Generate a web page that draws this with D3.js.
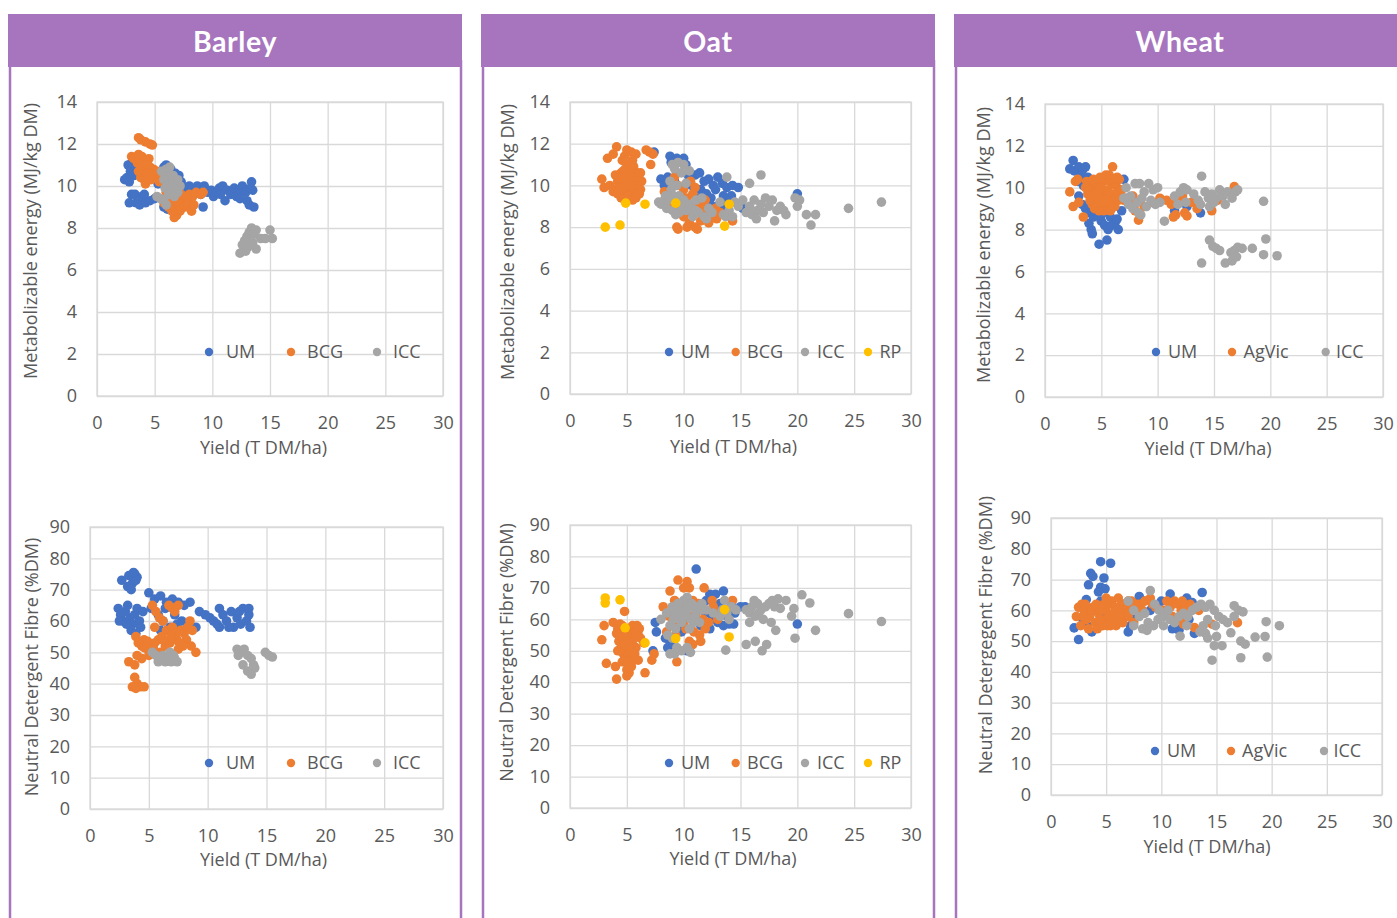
<!DOCTYPE html>
<html>
<head>
<meta charset="utf-8">
<script src="https://cdn.jsdelivr.net/npm/d3@7/dist/d3.min.js"></script>
<style>
  html, body { margin: 0; padding: 0; background: #ffffff; }
  svg { display: block; }
</style>
</head>
<body>
<svg id="fig" width="1397" height="918"></svg>
<script>
// ---------- labels and ticks ----------
const crops = ["Barley", "Oat", "Wheat"];
const yieldTicks = [0, 5, 10, 15, 20, 25, 30];
const meTicks = [0, 2, 4, 6, 8, 10, 12, 14];
const ndfTicks = [0, 10, 20, 30, 40, 50, 60, 70, 80, 90];
const yieldTitle = "Yield (T DM/ha)";
const meTitle = "Metabolizable energy (MJ/kg DM)";
const ndfTitle = "Neutral Detergent Fibre (%DM)";
const ndfTitleWheat = "Neutral Detergegent Fibre (%DM)";

// ---------- Barley: metabolisable energy vs yield ----------
const barleyME_UM = [[2.4,10.3],[2.6,10.4],[2.7,11.0],[2.9,10.7],[3.0,11.1],[3.2,10.5],[3.4,10.9],[2.8,10.2],[3.6,10.6],[4.0,11.0],[4.4,10.3],
  [2.8,9.2],[3.0,9.6],[3.3,9.6],[3.4,9.2],[3.7,9.1],[3.9,9.5],[4.1,9.6],[4.2,9.2],[4.6,9.3],[5.0,9.4],
  [5.3,10.1],[5.6,10.4],[5.8,10.9],[6.0,11.0],[6.4,10.8],[6.8,10.6],[7.1,10.5],[7.3,10.2],[5.8,9.0],[6.1,8.9],[7.0,9.4],
  [7.6,9.9],[8.0,10.0],[8.4,9.7],[8.7,10.0],[9.0,9.6],[9.2,9.0],[9.3,10.0],[9.6,9.7],[9.9,9.8],[10.1,9.5],[10.3,9.7],[10.6,9.9],
  [10.9,10.0],[11.1,9.3],[11.3,9.8],[11.6,9.6],[11.9,9.9],[12.1,9.5],[12.3,9.8],[12.6,10.0],[12.9,9.7],[13.0,9.3],[13.2,9.1],
  [13.4,10.2],[13.5,9.8],[13.6,9.0],[13.3,9.9],[8.2,9.1],[10.7,9.6],[12.4,9.4]];
const barleyME_BCG = [[3.6,12.3],[3.8,12.2],[4.2,12.1],[4.6,12.0],[4.8,11.95],[3.0,11.4],[3.2,11.3],[3.6,11.5],[3.9,11.4],[4.2,11.2],
  [4.5,11.3],[3.5,11.1],[3.8,10.9],[4.0,10.7],[4.3,10.8],[4.6,10.9],[4.9,10.8],[5.2,10.7],[3.8,10.4],[4.1,10.3],[4.4,10.5],
  [4.7,10.3],[5.0,10.5],[5.5,10.6],[4.2,10.1],[5.4,10.2],[6.0,9.7],[6.3,9.5],[6.6,9.2],[6.8,9.0],[7.0,9.3],[7.3,9.6],[7.5,9.2],
  [7.8,9.4],[8.0,9.6],[8.3,9.5],[8.6,9.7],[9.0,9.6],[9.2,9.7],[7.2,8.8],[6.9,8.6],[6.7,8.5],[7.6,9.0],[8.2,8.8],[6.2,9.0],
  [7.0,8.9],[7.8,9.2],[5.8,9.2],[6.5,8.8],[8.4,9.1],[4.0,11.0],[4.4,11.0],[3.6,10.7],[4.5,10.6],[6.4,9.3],[7.1,9.1],[7.6,9.5]];
const barleyME_ICC = [[5.6,10.7],[6.0,10.8],[6.3,10.5],[5.8,10.3],[6.5,10.2],[6.1,10.0],[6.8,10.0],[5.9,9.9],[6.4,9.8],[7.0,9.7],
  [6.6,10.5],[7.2,10.0],[5.5,9.4],[5.8,9.3],[6.0,9.1],[6.2,9.6],[6.7,9.5],[7.0,10.3],[5.2,9.5],[6.3,10.9],
  [12.4,6.8],[12.6,7.2],[12.8,7.4],[13.0,7.6],[13.2,7.8],[13.4,8.0],[13.6,7.7],[13.8,7.9],[13.5,7.3],[13.8,7.0],[14.2,7.5],
  [14.6,7.5],[15.0,7.9],[15.2,7.5],[13.1,7.1],[12.9,6.9]];

// ---------- Barley: neutral detergent fibre vs yield ----------
const barleyNDF_UM = [[2.7,73],[3.2,71],[3.6,72],[3.8,75],[4.0,74],[3.5,70],[3.9,73],[3.3,74.5],[3.7,75.5],
  [2.4,64],[2.6,62],[2.8,60],[3.0,63],[3.2,65],[3.4,61],[3.6,59],[3.8,62],[4.0,64],[4.2,60],[4.5,63],[3.5,57],[3.9,56],[2.5,60],[4.3,58],[3.1,59],
  [5.0,69],[5.5,67],[6.0,68],[6.5,66],[7.0,67],[7.5,66],[8.0,65],[8.5,66],[5.2,64],[5.8,62],[6.2,60],[6.8,58],[7.2,62],[7.8,60],
  [6.0,57],[8.3,58],[9.0,58],[6.4,64],[7.4,59],
  [9.3,63],[9.8,62],[10.2,61],[10.5,60],[11.0,64],[11.3,62],[11.6,60],[12.0,63],[12.2,58],[12.5,61],[12.8,59],[13.0,64],
  [13.3,60],[13.5,62],[13.6,58],[11.8,58],[10.8,59],[12.7,63],[13.5,64],[11.0,58]];
const barleyNDF_BCG = [[5.3,65],[5.6,63],[5.9,61],[6.2,60],[6.7,65],[7.0,64],[7.2,63],[7.5,65],[5.5,58],[6.5,57],[3.9,55],[4.1,53],
  [4.4,52],[4.6,54],[4.9,51],[5.2,52],[5.5,53],[5.8,54],[6.1,55],[6.4,52],[6.8,53],[7.1,55],[7.4,54],[7.7,57],[8.0,56],[8.3,58],
  [8.5,60],[8.2,54],[7.9,52],[7.5,51],[6.0,50],[5.0,49],[4.4,48],[3.3,47],[3.8,46],[4.0,49],[8.6,52],[9.0,50],[3.8,42],[4.0,40],
  [3.6,39],[4.3,39],[4.6,39],[3.9,38.5],[7.0,58],[7.3,56],[8.7,57],[4.6,51.5],[5.4,51],[6.3,54],[6.9,55],[7.6,53],[4.9,53.5]];
const barleyNDF_ICC = [[5.3,50],[5.6,49],[5.9,48],[6.2,49],[6.5,48],[6.8,50],[7.1,49],[7.4,47],[5.8,47],[6.4,47],[6.9,47],[7.2,48],
  [12.5,51],[12.8,50],[13.1,51],[13.4,49],[13.7,48],[13.9,46],[13.0,46],[13.4,44],[13.7,43],[14.0,45],[14.9,50],[15.2,49],
  [15.5,48.5],[12.6,49]];

// ---------- Oat: metabolisable energy vs yield ----------
const oatME_UM = [[7.4,11.6],[8.8,11.4],[9.4,11.3],[10.0,11.3],[8.9,11.1],[10.2,11.0],[8.0,10.3],[8.6,10.4],[9.2,10.2],[10.4,10.5],
  [11.0,10.5],[11.4,10.6],[11.8,10.2],[12.2,10.3],[12.6,10.0],[13.0,10.4],[13.4,10.1],[13.8,9.9],[14.3,10.0],[14.8,9.9],
  [11.5,9.8],[12.0,9.6],[12.4,9.4],[12.8,9.8],[13.5,9.5],[13.9,9.2],[14.2,9.5],[12.9,9.0],[13.6,8.9],[15.2,8.9],[12.3,9.1],
  [20.0,9.6],[8.3,10.0],[10.7,10.0],[11.2,9.4]];
const oatME_BCG = [[4.1,11.85],[3.8,11.5],[3.3,11.3],[5.0,11.7],[5.4,11.6],[5.8,11.5],[4.6,11.2],[5.2,11.0],[5.6,10.9],[4.5,10.6],
  [4.8,10.5],[5.1,10.3],[5.4,10.4],[5.7,10.1],[4.2,10.2],[4.0,9.8],[4.4,9.9],[4.7,10.0],[5.0,9.8],[5.3,9.6],[5.6,9.7],[6.0,9.9],
  [6.3,10.2],[2.8,10.3],[3.0,9.9],[3.5,10.0],[4.9,9.4],[5.5,9.3],[6.2,9.8],[4.3,10.5],[4.9,10.8],[5.2,10.6],[5.9,10.6],[6.0,10.3],
  [4.6,9.6],[7.0,11.6],[7.3,11.5],[6.7,11.7],[7.1,11.0],[3.8,9.7],[5.5,11.2],
  [4.4,10.3],[4.7,10.7],[5.0,10.1],[5.3,10.9],[5.6,10.4],[5.9,10.0],[4.2,9.6],[4.5,9.4],[5.1,9.5],[5.8,9.4],[6.1,9.6],
  [4.8,11.4],[5.5,10.0],[4.0,10.5],[6.2,10.6],[4.6,10.4],
  [9.2,10.4],[9.5,10.0],[10.0,9.8],[10.6,10.2],[11.0,9.9],[9.8,9.5],[10.3,9.4],[10.8,9.6],[11.3,9.2],[11.7,9.0],[9.0,9.3],
  [8.6,9.6],[8.3,9.7],[9.3,8.9],[10.0,8.5],[10.5,8.2],[11.0,8.0],[11.5,8.3],[12.0,8.6],[12.5,8.5],[12.8,8.9],[13.2,8.7],
  [9.4,8.0],[9.5,7.9],[10.3,8.0],[11.2,7.9],[12.2,8.2],[12.9,8.4],[14.3,8.3],[12.6,8.8],[11.9,9.3],[10.7,8.7],[8.8,9.0]];
const oatME_ICC = [[9.0,11.0],[9.5,11.1],[10.0,11.0],[9.2,10.8],[9.8,10.6],[10.5,10.7],[8.8,10.2],[9.4,10.0],[10.2,10.1],[8.4,9.5],
  [8.9,9.8],[9.6,9.5],[10.0,9.3],[10.6,9.1],[11.1,9.3],[8.0,9.1],[8.5,8.9],[9.0,8.8],[9.6,8.7],[10.2,8.8],[10.8,8.5],[11.3,8.7],
  [11.8,8.5],[9.3,8.6],[8.3,9.3],[12.0,8.4],[12.5,8.7],[13.2,9.2],[13.8,10.4],[13.5,8.6],[14.0,8.8],[14.5,9.2],[14.8,9.0],
  [15.2,9.3],[13.7,8.5],[7.8,9.2],[11.6,9.4],[15.8,10.1],[16.8,10.5],[15.8,9.0],[16.2,9.3],[16.5,8.8],[16.8,9.1],[17.2,9.4],
  [17.5,9.0],[17.8,9.3],[18.2,8.8],[18.5,9.0],[16.0,8.6],[16.4,8.4],[17.0,8.7],[18.0,8.3],[18.8,8.8],[19.0,8.6],[19.8,9.4],
  [20.0,9.0],[20.2,9.3],[20.8,8.6],[21.2,8.1],[21.6,8.6],[24.5,8.9],[27.4,9.2],[15.5,8.7],[14.3,8.5],
  [9.9,9.0],[10.5,8.9],[11.0,8.8],[9.1,9.5],[8.7,9.3],[12.2,8.9]];
const oatME_RP = [[3.1,8.0],[4.4,8.1],[4.9,9.15],[6.6,9.1],[9.3,9.15],[14.0,9.1],[13.6,8.05]];

// ---------- Oat: neutral detergent fibre vs yield ----------
const oatNDF_UM = [[11.1,76],[12.3,68],[12.8,68],[13.5,69],[12.0,66],[12.7,64],[13.2,65],[13.8,63],[14.2,64.5],[15.0,64],[15.4,64],
  [14.5,62],[13.0,59],[13.5,58],[14.0,58.5],[14.4,58.5],[12.3,57],[11.5,58],[7.5,59],[7.6,56],[8.4,54],[8.8,53],[8.6,51],
  [9.1,52],[7.3,50],[10.3,50],[9.8,56],[10.0,57.5],[20.0,58.5],[12.5,61],[11.9,62],[13.8,61]];
const oatNDF_BCG = [[2.8,53.5],[3.0,58],[3.2,46],[4.1,41],[4.0,45],[5.0,42],[5.2,43],[4.8,62.5],[3.8,59],[4.2,57],[4.5,56],[4.8,55],
  [5.1,57],[5.4,56],[5.7,57],[6.0,55],[6.2,54],[4.3,53],[4.6,52],[4.9,51],[5.2,53],[5.5,52],[5.8,51],[4.4,50],[4.7,49],[5.0,48],
  [5.3,48],[5.6,47],[4.6,46.5],[5.0,44],[5.4,45],[6.0,47],[6.6,43],[7.2,47],[7.4,49],[6.5,52.5],[4.1,55.5],[5.2,50],[5.9,58],
  [4.4,58.5],[5.6,54],
  [4.3,55],[4.6,58],[4.9,53],[5.2,55],[5.5,58],[5.8,56],[6.1,57],[4.5,51],[4.8,47],[5.1,46],[5.4,50],[5.7,49],[4.2,50],[5.0,54.5],[5.3,51.5],
  [8.8,69],[9.5,72.5],[10.3,72],[10.0,70],[10.5,70],[11.8,70],[9.2,66],[9.8,65],[10.8,66],[11.3,65],[12.5,66],[8.2,64],[8.7,61],
  [9.4,60],[10.0,59],[10.6,61],[11.1,62],[11.7,60],[12.2,59],[12.8,62],[8.5,56],[9.3,55],[10.2,57],[10.9,56],[11.4,55],[11.5,53],
  [10.5,53],[10.8,52],[9.4,46.5],[12.6,64],[14.3,66],[13.0,60],[11.9,57],[9.0,58]];
const oatNDF_ICC = [[8.0,60],[8.5,62],[9.0,64],[9.5,65],[10.0,66],[10.3,67],[10.7,65],[11.2,64],[11.6,65],[12.0,63],[9.2,62],[9.7,61],
  [10.2,62],[10.6,60],[11.0,61],[11.4,59],[8.8,58],[9.3,57],[9.8,59],[10.5,57],[8.6,55],[9.0,54],[9.4,51],[9.2,49],[9.8,50],
  [10.3,51],[10.6,49.5],[8.8,49],[11.6,63],[10.0,63],[12.6,62],[13.2,61],[13.8,62],[14.2,64],[13.6,66],[14.6,63],[14.0,60],[13.4,63],
  [15.5,63],[15.8,62],[16.0,64],[16.2,66],[16.5,65],[16.8,63],[17.2,64],[17.5,65],[17.8,66],[18.3,66.5],[18.0,64],[16.3,61],
  [15.8,59],[16.6,62],[17.0,60],[18.5,63.5],[19.0,66],[19.5,61],[20.4,67.8],[19.7,63.4],[21.1,65.2],[15.5,52],[16.3,53],[16.9,50],
  [17.3,52],[17.7,59],[18.1,56.5],[19.8,54],[21.6,56.5],[24.5,61.8],[27.4,59.3],[13.7,50.2],
  [9.6,63],[10.4,64],[11.0,63],[9.1,60],[10.0,61],[10.9,59]];
const oatNDF_RP = [[3.1,66.8],[3.1,65.2],[4.4,66.2],[4.85,57.3],[6.6,52.5],[9.3,53.9],[13.6,63.1],[14.0,54.4]];

// ---------- Wheat: metabolisable energy vs yield ----------
const wheatME_UM = [[2.5,11.3],[2.2,10.9],[2.6,10.8],[3.0,11.0],[3.4,10.9],[3.6,11.0],[3.2,10.6],[3.8,10.5],[2.9,10.3],[3.4,10.1],
  [3.9,9.9],[3.0,9.6],[3.3,9.2],[3.6,9.0],[4.0,8.8],[4.3,8.6],[3.9,8.3],[4.1,8.0],[4.2,7.8],[4.8,7.3],[5.5,7.5],[5.0,8.4],[5.3,8.2],
  [5.6,8.0],[5.9,8.2],[6.2,8.3],[6.5,8.0],[4.6,9.0],[5.0,8.7],[5.8,8.6],[6.4,8.5],[4.6,9.6],[7.0,10.4],[7.2,9.5],[6.8,8.9],
  [11.5,8.9],[13.8,8.8],[11.8,9.5],[12.6,9.1],[4.5,10.2]];
const wheatME_AgVic = [[2.2,9.8],[2.5,9.1],[2.7,10.3],[2.9,10.4],[3.0,9.3],[3.4,8.6],[3.7,10.3],[4.0,10.1],[4.3,9.9],[4.6,10.0],
  [4.9,10.2],[5.2,10.3],[5.5,10.4],[5.8,10.3],[6.1,10.2],[6.3,10.1],[3.8,9.7],[4.1,9.5],[4.4,9.7],[4.7,9.5],[5.0,9.6],[5.3,9.8],
  [5.6,9.7],[5.9,9.6],[6.2,9.7],[6.5,9.8],[4.2,9.2],[4.5,9.1],[4.8,9.3],[5.1,9.0],[5.4,9.2],[5.7,9.1],[6.0,9.3],[5.2,8.9],
  [6.0,11.0],[6.6,10.4],[4.9,10.5],[5.7,10.6],[3.6,10.0],[7.0,9.4],[7.5,9.2],[8.0,8.9],[8.3,8.45],[8.8,9.1],[9.5,9.3],[10.2,9.5],
  [10.8,9.4],[11.2,9.2],[11.6,8.7],[11.4,8.6],[12.0,9.4],[12.4,8.8],[12.6,8.65],[13.0,9.3],[13.5,9.0],[14.8,8.9],[15.3,9.4],
  [16.8,10.05],[12.2,9.6],[7.8,9.6],
  [4.0,9.4],[4.3,10.4],[4.6,9.8],[5.0,10.0],[5.3,9.4],[5.6,9.9],[5.9,9.0],[6.2,9.1],[6.5,9.4],[6.8,9.9],[5.4,10.6],[4.4,9.0],
  [6.4,10.5],[4.8,8.9],[5.8,8.9]];
const wheatME_ICC = [[7.2,10.0],[7.6,9.6],[8.0,10.2],[8.4,10.2],[8.8,9.8],[9.2,10.2],[9.6,9.9],[10.0,10.0],[7.4,9.2],[7.8,9.0],
  [8.2,9.3],[8.6,9.5],[9.0,9.1],[9.4,9.4],[9.8,9.2],[10.2,9.3],[8.5,8.7],[10.6,8.4],[7.0,9.5],[11.5,9.6],[12.0,9.8],[12.3,10.0],
  [12.6,9.9],[11.8,9.2],[12.5,9.3],[13.2,9.7],[13.6,9.4],[13.9,10.55],[14.2,9.8],[14.5,9.5],[14.8,9.7],[15.2,9.5],[15.5,9.9],
  [15.8,9.6],[16.2,9.8],[16.6,9.5],[16.9,9.8],[17.1,9.9],[13.8,9.2],[14.6,9.1],[15.0,9.3],[16.0,9.2],[19.4,9.35],[8.3,8.8],
  [14.6,7.5],[14.9,7.2],[15.2,7.1],[15.5,7.0],[13.9,6.4],[16.0,6.4],[16.5,6.9],[16.8,7.0],[17.1,7.15],[17.5,7.1],[18.4,7.1],
  [16.6,6.5],[19.4,6.8],[19.6,7.55],[20.6,6.75],[17.0,6.7]];

// ---------- Wheat: neutral detergent fibre vs yield ----------
const wheatNDF_UM = [[4.5,75.8],[5.4,75.3],[3.6,72],[3.8,71],[4.8,70.5],[4.5,67.5],[3.4,68.3],[4.9,67],[4.3,66],[3.2,63.5],[4.5,63],
  [2.1,54.3],[2.5,50.5],[2.9,57],[3.3,55],[3.7,53],[4.5,58],[7.0,53],[7.2,55],[7.5,57],[8.0,64.5],[8.4,63],[10.0,63],[10.8,65.3],
  [11.3,55],[11.6,53.5],[11.0,54],[12.3,64],[12.8,62.5],[13.0,52.5],[13.7,65.8],[12.5,57],[9.0,60],[3.9,60],[7.8,60],[6.5,62]];
const wheatNDF_AgVic = [[2.3,58],[2.5,61],[2.8,62],[3.0,60],[3.2,57],[2.7,55],[3.5,58],[3.8,61],[4.0,56],[4.3,59],[4.6,60],[4.9,57],
  [5.2,62],[5.5,63],[5.8,61],[6.1,64],[6.4,62],[6.7,60],[7.0,63],[5.0,60],[5.3,58],[5.6,57],[5.9,55],[6.2,57],[6.5,56],[6.8,58],
  [7.1,60],[7.4,61],[4.2,54],[4.7,55],[5.4,55],[3.4,54],[8.0,62],[8.5,63],[9.0,64],[9.5,61],[10.2,60],[10.8,61],[11.2,63],
  [11.5,62],[11.8,60],[12.2,61],[12.6,62],[11.0,58],[11.7,57],[12.0,55.5],[13.0,54.4],[14.6,55.5],[16.9,56],[13.4,60],[7.5,56],
  [3.6,60],[4.1,62],[4.4,57],[4.8,62],[5.1,55],[5.7,59],[6.0,60],[6.3,59],[6.6,62],[7.0,58],[7.3,63],[7.7,62],[5.0,64],[3.1,62],
  [2.9,58],[8.3,60],[9.2,62],[10.5,63],[11.9,63],[12.4,59]];
const wheatNDF_ICC = [[7.0,63],[7.5,60],[8.0,58],[8.5,59],[9.0,66.4],[9.4,62],[9.8,60],[10.2,58],[10.6,60],[8.8,56],[9.3,55],
  [9.7,57],[10.2,55],[8.3,54],[8.7,53.5],[7.5,55],[10.8,57],[11.2,56],[11.6,58],[12.0,59],[12.4,58],[12.8,60],[13.2,61],
  [13.6,62],[14.0,61],[14.4,62],[14.8,60],[15.2,58],[15.6,57],[16.0,56],[16.6,61.5],[17.0,60],[17.4,59.5],[16.6,58],[14.2,57],
  [13.8,55],[11.7,51.6],[13.5,53],[14.0,52.5],[14.2,51],[14.8,48.5],[15.0,51.5],[15.5,48.5],[16.3,52.7],[17.2,50],[17.6,49],
  [18.5,51.3],[19.4,51.5],[19.5,56.3],[20.7,55],[14.6,43.8],[17.2,44.6],[19.6,44.8],[12.3,55],[14.9,55]];

// ---------- series colours ----------
const seriesColor = { UM: "#4472C4", BCG: "#ED7D31", AgVic: "#ED7D31", ICC: "#A5A5A5", RP: "#FFC000" };

// ---------- chart definitions (data references) ----------
const charts = [
  { crop: "Barley", yTicks: meTicks, yMax: 14, yLabel: meTitle,
    series: [["UM", barleyME_UM], ["BCG", barleyME_BCG], ["ICC", barleyME_ICC]] },
  { crop: "Barley", yTicks: ndfTicks, yMax: 90, yLabel: ndfTitle,
    series: [["UM", barleyNDF_UM], ["BCG", barleyNDF_BCG], ["ICC", barleyNDF_ICC]] },
  { crop: "Oat", yTicks: meTicks, yMax: 14, yLabel: meTitle,
    series: [["UM", oatME_UM], ["BCG", oatME_BCG], ["ICC", oatME_ICC], ["RP", oatME_RP]] },
  { crop: "Oat", yTicks: ndfTicks, yMax: 90, yLabel: ndfTitle,
    series: [["UM", oatNDF_UM], ["BCG", oatNDF_BCG], ["ICC", oatNDF_ICC], ["RP", oatNDF_RP]] },
  { crop: "Wheat", yTicks: meTicks, yMax: 14, yLabel: meTitle,
    series: [["UM", wheatME_UM], ["AgVic", wheatME_AgVic], ["ICC", wheatME_ICC]] },
  { crop: "Wheat", yTicks: ndfTicks, yMax: 90, yLabel: ndfTitleWheat,
    series: [["UM", wheatNDF_UM], ["AgVic", wheatNDF_AgVic], ["ICC", wheatNDF_ICC]] }
];

// ---------- page geometry ----------
const panelBoxes = [
  { x0: 8, x1: 462, borderL: 10, borderR: 461 },
  { x0: 481, x1: 935, borderL: 483, borderR: 934 },
  { x0: 954, x1: 1406, borderL: 956, borderR: null }
];
const chartBoxes = [
  { left: 97, right: 443, top: 102, bottom: 396, yT: [31, 241], xT: [263.5, 448], legY: 352, legM: [209, 291, 377], legT: [226, 307, 393] },
  { left: 90, right: 443, top: 527, bottom: 809, yT: [31.5, 667], xT: [263.5, 860], legY: 763, legM: [209, 291, 377], legT: [226, 307, 393] },
  { left: 570, right: 911, top: 102, bottom: 394, yT: [507.5, 242], xT: [733.5, 447], legY: 352, legM: [669, 735.7, 805, 868], legT: [681, 747, 817, 879.5] },
  { left: 570, right: 911, top: 525, bottom: 808, yT: [507, 652.5], xT: [733, 859], legY: 763, legM: [669, 735.7, 805, 868], legT: [681, 747, 817, 879.5] },
  { left: 1045, right: 1383, top: 104, bottom: 397, yT: [984, 245], xT: [1208, 448.5], legY: 352, legM: [1156, 1232, 1325.7], legT: [1168, 1243.5, 1336] },
  { left: 1051, right: 1382, top: 518, bottom: 795, yT: [986, 635], xT: [1207, 846.5], legY: 751, legM: [1155, 1231, 1324], legT: [1167, 1242, 1333.5] }
];

const FONT = "'Open Sans', 'Noto Sans', sans-serif";
const FONT_SIZE = "18px";
const TEXT_GREY = "#595959";
const GRID = "#d9d9d9";
const PURPLE = "#a675bd";
const DOT_R = 4.8;

const svg = d3.select("#fig");
svg.append("rect").attr("width", 1397).attr("height", 918).attr("fill", "#ffffff");

// ---------- panels: header band and side rules ----------
crops.forEach((name, i) => {
  const p = panelBoxes[i];
  const g = svg.append("g");
  g.append("line").attr("x1", p.borderL).attr("x2", p.borderL).attr("y1", 60).attr("y2", 918)
    .attr("stroke", PURPLE).attr("stroke-width", 2.5);
  if (p.borderR !== null) {
    g.append("line").attr("x1", p.borderR).attr("x2", p.borderR).attr("y1", 60).attr("y2", 918)
      .attr("stroke", PURPLE).attr("stroke-width", 2.5);
  }
  g.append("rect").attr("x", p.x0).attr("y", 14).attr("width", p.x1 - p.x0).attr("height", 53)
    .attr("fill", PURPLE);
  g.append("text").attr("x", (p.x0 + p.x1) / 2).attr("y", 51.5)
    .attr("text-anchor", "middle").attr("fill", "#ffffff")
    .style("font-family", "Lato, 'Open Sans', sans-serif").style("font-weight", 700)
    .style("font-size", "28.5px").style("letter-spacing", "0.6px")
    .text(name);
});

// ---------- scatter charts ----------
charts.forEach((c, i) => {
  const b = chartBoxes[i];
  const x = d3.scaleLinear().domain([0, 30]).range([b.left, b.right]);
  const y = d3.scaleLinear().domain([0, c.yMax]).range([b.bottom, b.top]);
  const W = b.right - b.left, H = b.bottom - b.top;
  const g = svg.append("g");

  // horizontal grid + y tick labels
  const ya = g.append("g").attr("transform", `translate(${b.left},0)`)
    .call(d3.axisLeft(y).tickValues(c.yTicks).tickSize(-W).tickPadding(20).tickFormat(d3.format("d")));
  // vertical grid + x tick labels
  const xa = g.append("g").attr("transform", `translate(0,${b.bottom})`)
    .call(d3.axisBottom(x).tickValues(yieldTicks).tickSize(-H).tickPadding(20).tickFormat(d3.format("d")));
  [ya, xa].forEach(a => {
    a.select(".domain").remove();
    a.selectAll(".tick line").attr("stroke", GRID).attr("stroke-width", 1.3);
    a.selectAll(".tick text").attr("fill", TEXT_GREY)
      .style("font-family", FONT).style("font-size", FONT_SIZE);
  });
  g.append("rect").attr("x", b.left).attr("y", b.top).attr("width", W).attr("height", H)
    .attr("fill", "none").attr("stroke", GRID).attr("stroke-width", 1.3);

  // axis titles
  g.append("text").attr("transform", `translate(${b.yT[0]},${b.yT[1]}) rotate(-90)`)
    .attr("text-anchor", "middle").attr("dy", "0.35em").attr("fill", TEXT_GREY)
    .style("font-family", FONT).style("font-size", FONT_SIZE).text(c.yLabel);
  g.append("text").attr("x", b.xT[0]).attr("y", b.xT[1])
    .attr("text-anchor", "middle").attr("dy", "0.35em").attr("fill", TEXT_GREY)
    .style("font-family", FONT).style("font-size", FONT_SIZE).text(yieldTitle);

  // points, series in order
  c.series.forEach(([key, pts]) => {
    g.append("g").selectAll("circle").data(pts).join("circle")
      .attr("cx", d => x(d[0])).attr("cy", d => y(d[1])).attr("r", DOT_R)
      .attr("fill", seriesColor[key]);
  });

  // legend
  c.series.forEach(([key], k) => {
    g.append("circle").attr("cx", b.legM[k]).attr("cy", b.legY).attr("r", 4.2)
      .attr("fill", seriesColor[key]);
    g.append("text").attr("x", b.legT[k]).attr("y", b.legY).attr("dy", "0.35em")
      .attr("fill", TEXT_GREY).style("font-family", FONT).style("font-size", FONT_SIZE).text(key);
  });
});
</script>
</body>
</html>
